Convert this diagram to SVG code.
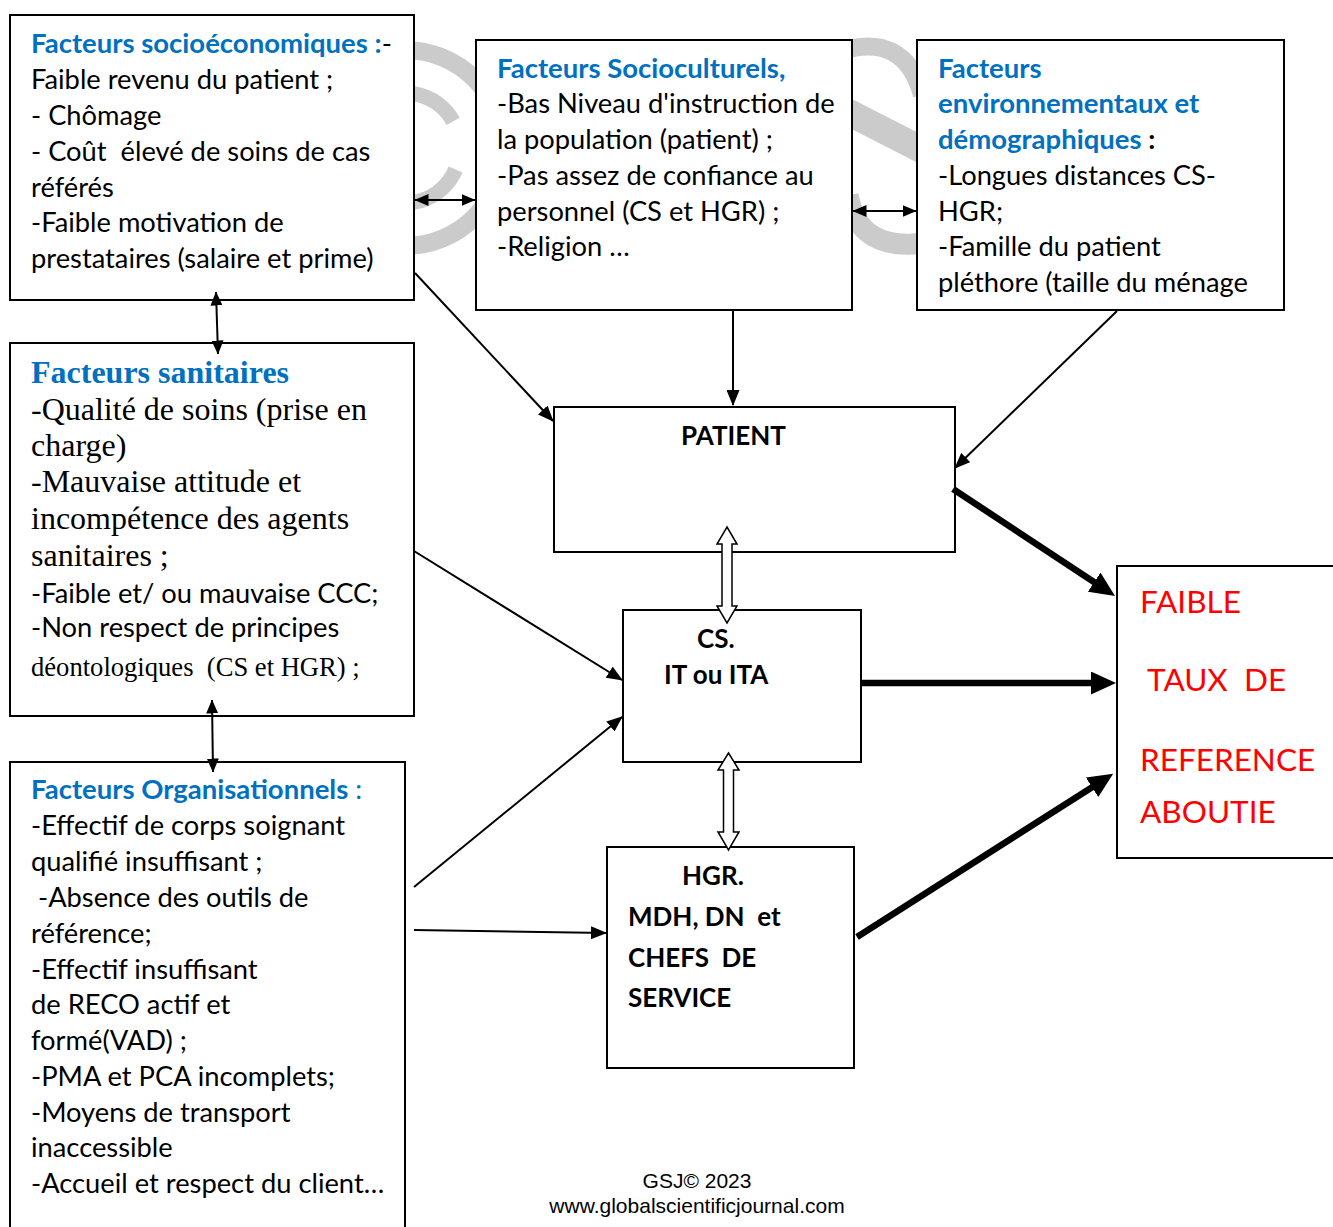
<svg xmlns="http://www.w3.org/2000/svg" width="1333" height="1227" viewBox="0 0 1333 1227">
<style>
.box{fill:#fff;stroke:#000;stroke-width:2}
.wm{fill:none;stroke:#cbcbcb}
text{white-space:pre}
.c{font-family:Lato,"Liberation Sans",sans-serif;font-size:27.3px;fill:#000}
.b{font-weight:bold;font-size:27.5px}
.k{font-weight:bold;font-size:26px}
.s{font-family:"Liberation Serif",serif;font-size:32px;fill:#000}
.s2{font-family:"Liberation Serif",serif;font-size:26.6px;fill:#000}
.red{font-family:Lato,"Liberation Sans",sans-serif;font-size:31.5px;fill:#ff0000}
.foot{font-family:"Liberation Sans",Arial,sans-serif;font-size:21px;fill:#000;text-anchor:middle}
.ln{fill:none;stroke:#000;stroke-width:2}
.thick{fill:none;stroke:#000;stroke-width:6.5}
.hollow{fill:#fff;stroke:#000;stroke-width:1.5;stroke-linejoin:miter}
.blue{fill:#0070C0}
.sb{font-weight:bold;fill:#0070C0}
</style>
<defs>
<marker id="ah" markerUnits="userSpaceOnUse" markerWidth="16" markerHeight="13" viewBox="0 0 16 13" refX="15" refY="6.5" orient="auto-start-reverse"><path d="M0,0 L16,6.5 L0,13 z" fill="#000"/></marker>
<marker id="ahs" markerUnits="userSpaceOnUse" markerWidth="14" markerHeight="12" viewBox="0 0 14 12" refX="13.5" refY="6" orient="auto-start-reverse"><path d="M0,0 L14,6 L0,12 z" fill="#000"/></marker>
<marker id="ahk" markerUnits="userSpaceOnUse" markerWidth="25" markerHeight="23" viewBox="0 0 25 23" refX="7" refY="11.5" orient="auto"><path d="M0,0 L25,11.5 L0,23 z" fill="#000"/></marker>
</defs>
<rect width="1333" height="1227" fill="#fff"/>
<g id="watermark">
<circle class="wm" cx="405" cy="148" r="98" stroke-width="18"/>
<path class="wm" stroke-width="15" d="M453.1,121.3 A55,55 0 1 0 455.6,169.5"/>
<path class="wm" stroke-width="18" d="M845,50 C880,40 910,50 922,95"/>
<path class="wm" stroke-width="27" d="M840,108 L930,154"/>
<path class="wm" stroke-width="21" d="M848,195 Q858,252 925,243"/>
</g>
<g id="socioeconomiques">
<rect class="box" x="10" y="15" width="404" height="285"/>
<text class="c" x="31" y="53"><tspan class="b blue">Facteurs socioéconomiques :</tspan>-</text>
<text class="c" x="31" y="89">Faible revenu du patient ;</text>
<text class="c" x="31" y="125">- Chômage</text>
<text class="c" x="31" y="161">- Coût  élevé de soins de cas</text>
<text class="c" x="31" y="197">référés</text>
<text class="c" x="31" y="232">-Faible motivation de</text>
<text class="c" x="31" y="268">prestataires (salaire et prime)</text>
</g>
<g id="socioculturels">
<rect class="box" x="476" y="40" width="376" height="270"/>
<text class="c b blue" x="497" y="78">Facteurs Socioculturels,</text>
<text class="c" x="497" y="113">-Bas Niveau d'instruction de</text>
<text class="c" x="497" y="149">la population (patient) ;</text>
<text class="c" x="497" y="185">-Pas assez de confiance au</text>
<text class="c" x="497" y="221">personnel (CS et HGR) ;</text>
<text class="c" x="497" y="256">-Religion …</text>
</g>
<g id="environnementaux">
<rect class="box" x="917" y="40" width="367" height="270"/>
<text class="c b blue" x="938" y="78">Facteurs</text>
<text class="c b blue" x="938" y="113">environnementaux et</text>
<text class="c b" x="938" y="149"><tspan class="blue">démographiques</tspan> :</text>
<text class="c" x="938" y="185">-Longues distances CS-</text>
<text class="c" x="938" y="221">HGR;</text>
<text class="c" x="938" y="256">-Famille du patient</text>
<text class="c" x="938" y="292">pléthore (taille du ménage</text>
</g>
<g id="sanitaires">
<rect class="box" x="10" y="343" width="404" height="373"/>
<text class="s sb" x="31" y="383">Facteurs sanitaires</text>
<text class="s" x="31" y="420">-Qualité de soins (prise en</text>
<text class="s" x="31" y="456">charge)</text>
<text class="s" x="31" y="492">-Mauvaise attitude et</text>
<text class="s" x="31" y="529">incompétence des agents</text>
<text class="s" x="31" y="566">sanitaires ;</text>
<text class="c" x="31" y="603">-Faible et/ ou mauvaise CCC;</text>
<text class="c" x="31" y="637">-Non respect de principes</text>
<text class="s2" x="31" y="676">déontologiques  (CS et HGR) ;</text>
</g>
<g id="organisationnels">
<rect class="box" x="10" y="762" width="395" height="480"/>
<text class="c blue" x="31" y="799"><tspan class="b">Facteurs Organisationnels</tspan> :</text>
<text class="c" x="31" y="835">-Effectif de corps soignant</text>
<text class="c" x="31" y="871">qualifié insuffisant ;</text>
<text class="c" x="31" y="907"> -Absence des outils de</text>
<text class="c" x="31" y="943">référence;</text>
<text class="c" x="31" y="979">-Effectif insuffisant</text>
<text class="c" x="31" y="1014">de RECO actif et</text>
<text class="c" x="31" y="1050">formé(VAD) ;</text>
<text class="c" x="31" y="1086">-PMA et PCA incomplets;</text>
<text class="c" x="31" y="1122">-Moyens de transport</text>
<text class="c" x="31" y="1157">inaccessible</text>
<text class="c" x="31" y="1193">-Accueil et respect du client…</text>
</g>
<g id="patient">
<rect class="box" x="554" y="407" width="401" height="145"/>
<text class="c k" x="681" y="445">PATIENT</text>
</g>
<g id="cs">
<rect class="box" x="623" y="610" width="238" height="152"/>
<text class="c k" x="697" y="648">CS.</text>
<text class="c k" x="664" y="684">IT ou ITA</text>
</g>
<g id="hgr">
<rect class="box" x="607" y="847" width="247" height="221"/>
<text class="c k" x="682" y="885">HGR.</text>
<text class="c k" x="628" y="926">MDH, DN  et</text>
<text class="c k" x="628" y="967">CHEFS  DE</text>
<text class="c k" x="628" y="1007">SERVICE</text>
</g>
<g id="resultat">
<rect class="box" x="1117" y="566" width="230" height="292"/>
<text class="red" x="1140" y="613">FAIBLE</text>
<text class="red" x="1147" y="691">TAUX  DE</text>
<text class="red" x="1140" y="771">REFERENCE</text>
<text class="red" x="1140" y="823">ABOUTIE</text>
</g>
<g id="connectors">
<line class="ln" x1="415" y1="200" x2="475" y2="200" marker-start="url(#ahs)" marker-end="url(#ahs)"/>
<line class="ln" x1="853" y1="211" x2="916" y2="211" marker-start="url(#ahs)" marker-end="url(#ahs)"/>
<line class="ln" x1="216" y1="292" x2="218" y2="354" marker-start="url(#ahs)" marker-end="url(#ahs)"/>
<line class="ln" x1="212" y1="700" x2="213" y2="772" marker-start="url(#ahs)" marker-end="url(#ahs)"/>
<line class="ln" x1="415" y1="273" x2="553" y2="421" marker-end="url(#ah)"/>
<line class="ln" x1="733" y1="310" x2="733" y2="405" marker-end="url(#ah)"/>
<line class="ln" x1="1117" y1="311" x2="955" y2="468" marker-end="url(#ah)"/>
<line class="ln" x1="414" y1="551" x2="622" y2="680" marker-end="url(#ah)"/>
<line class="ln" x1="414" y1="887" x2="622" y2="717" marker-end="url(#ah)"/>
<line class="ln" x1="414" y1="930" x2="606" y2="933" marker-end="url(#ah)"/>
<line class="thick" x1="953" y1="489" x2="1100" y2="586" marker-end="url(#ahk)"/>
<line class="thick" x1="861" y1="683" x2="1098" y2="683" marker-end="url(#ahk)"/>
<line class="thick" x1="857" y1="937" x2="1098" y2="783.5" marker-end="url(#ahk)"/>
<path class="hollow" d="M727,527 L737,544 L732,544 L732,606 L737,606 L727,623 L717,606 L722,606 L722,544 L717,544 Z"/>
<path class="hollow" d="M728.5,753 L739,770 L733.5,770 L733.5,832 L739,832 L728.5,850 L718,832 L723.5,832 L723.5,770 L718,770 Z"/>
</g>
<g id="footer">
<text class="foot" x="697" y="1188">GSJ© 2023</text>
<text class="foot" x="697" y="1213">www.globalscientificjournal.com</text>
</g>
</svg>
